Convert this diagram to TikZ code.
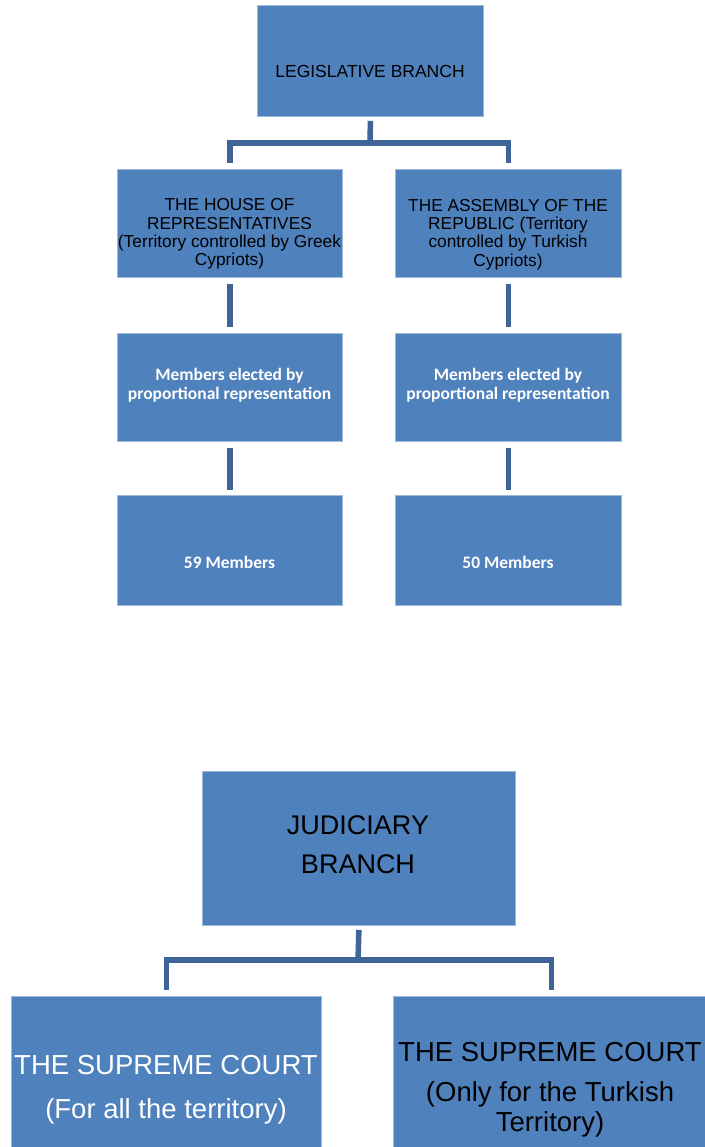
\documentclass[tikz,border=0pt]{standalone}
\usepackage{fontspec}
\setmainfont{Liberation Sans}
\newfontfamily\calib{Carlito}
\definecolor{boxblue}{HTML}{4F81BD}
\definecolor{connblue}{HTML}{3E6498}
\begin{document}
\begin{tikzpicture}[x=1pt,y=-1pt,
  box/.style={rectangle, fill=boxblue, draw=boxblue!55!white, line width=0.8pt, anchor=north west, inner sep=0pt},
  conn/.style={draw=connblue, line width=5.5pt},
  txt/.style={align=center, inner sep=0pt, text=black},
  midtxt/.style={txt, font=\fontsize{17.3}{18.3}\selectfont},
  memtxt/.style={align=center, inner sep=0pt, text=white, font=\calib\bfseries\fontsize{17.5}{19}\selectfont},
  bigtxt/.style={align=center, inner sep=0pt, font=\fontsize{27}{39}\selectfont}]
\useasboundingbox (0,0) rectangle (704,1147);
\fill[white] (0,0) rectangle (704,1147);

% Legislative branch
\node[box, minimum width=226pt, minimum height=111pt] (leg) at (257,5) {};
\node[txt, font=\fontsize{17.5}{18}\selectfont] (legt) at (370,71) {LEGISLATIVE BRANCH};

\node[box, minimum width=225pt, minimum height=108pt] (hr) at (117,169) {};
\node[box, minimum width=226pt, minimum height=108pt] (ar) at (395,169) {};
\node[midtxt] (hrt) at (229.5,234) {THE HOUSE OF\\REPRESENTATIVES\\(Territory controlled by Greek\\Cypriots)};
\node[midtxt] (art) at (508,234.5) {THE ASSEMBLY OF THE\\REPUBLIC (Territory\\controlled by Turkish\\Cypriots)};

\node[box, minimum width=225pt, minimum height=108pt] (hm) at (117,333) {};
\node[box, minimum width=226pt, minimum height=108pt] (am) at (395,333) {};
\node[memtxt] (hmt) at (229.5,385.5) {Members elected by\\proportional representation};
\node[memtxt] (amt) at (508,385.5) {Members elected by\\proportional representation};

\node[box, minimum width=225pt, minimum height=110pt] (hn) at (117,495) {};
\node[box, minimum width=226pt, minimum height=110pt] (an) at (395,495) {};
\node[memtxt] (hnt) at (229.5,562) {59 Members};
\node[memtxt] (ant) at (508,562) {50 Members};

\coordinate (j1) at (370,143);
\draw[conn] ([yshift=-4pt]leg.south) -- (j1);
\draw[conn] ([yshift=6pt]hr.north) |- (j1) -| ([yshift=6pt]ar.north);
\draw[conn] ([yshift=-6pt]hr.south) -- ([yshift=6pt]hm.north);
\draw[conn] ([yshift=-6pt]ar.south) -- ([yshift=6pt]am.north);
\draw[conn] ([yshift=-6pt]hm.south) -- ([yshift=5pt]hn.north);
\draw[conn] ([yshift=-6pt]am.south) -- ([yshift=5pt]an.north);

% Judiciary branch
\node[box, minimum width=313pt, minimum height=154pt] (jud) at (202,771) {};
\node[bigtxt, text=black] (judt) at (358,845) {JUDICIARY\\BRANCH};

\node[box, minimum width=310pt, minimum height=170pt] (sc) at (11,996) {};
\node[box, minimum width=316pt, minimum height=170pt] (st) at (393,996) {};
\node[bigtxt, text=white, font=\fontsize{27.5}{44}\selectfont] (sct) at (166,1090) {THE SUPREME COURT\\(For all the territory)};
\node[bigtxt, text=black, font=\fontsize{27.5}{30}\selectfont] (stt) at (550,1090) {THE SUPREME COURT\\[10pt](Only for the Turkish\\Territory)};

\coordinate (j2) at (358,960);
\draw[conn] ([yshift=-4pt]jud.south) -- (j2);
\draw[conn] ([yshift=6pt]sc.north) |- (j2) -| ([yshift=6pt]st.north);
\end{tikzpicture}
\end{document}
